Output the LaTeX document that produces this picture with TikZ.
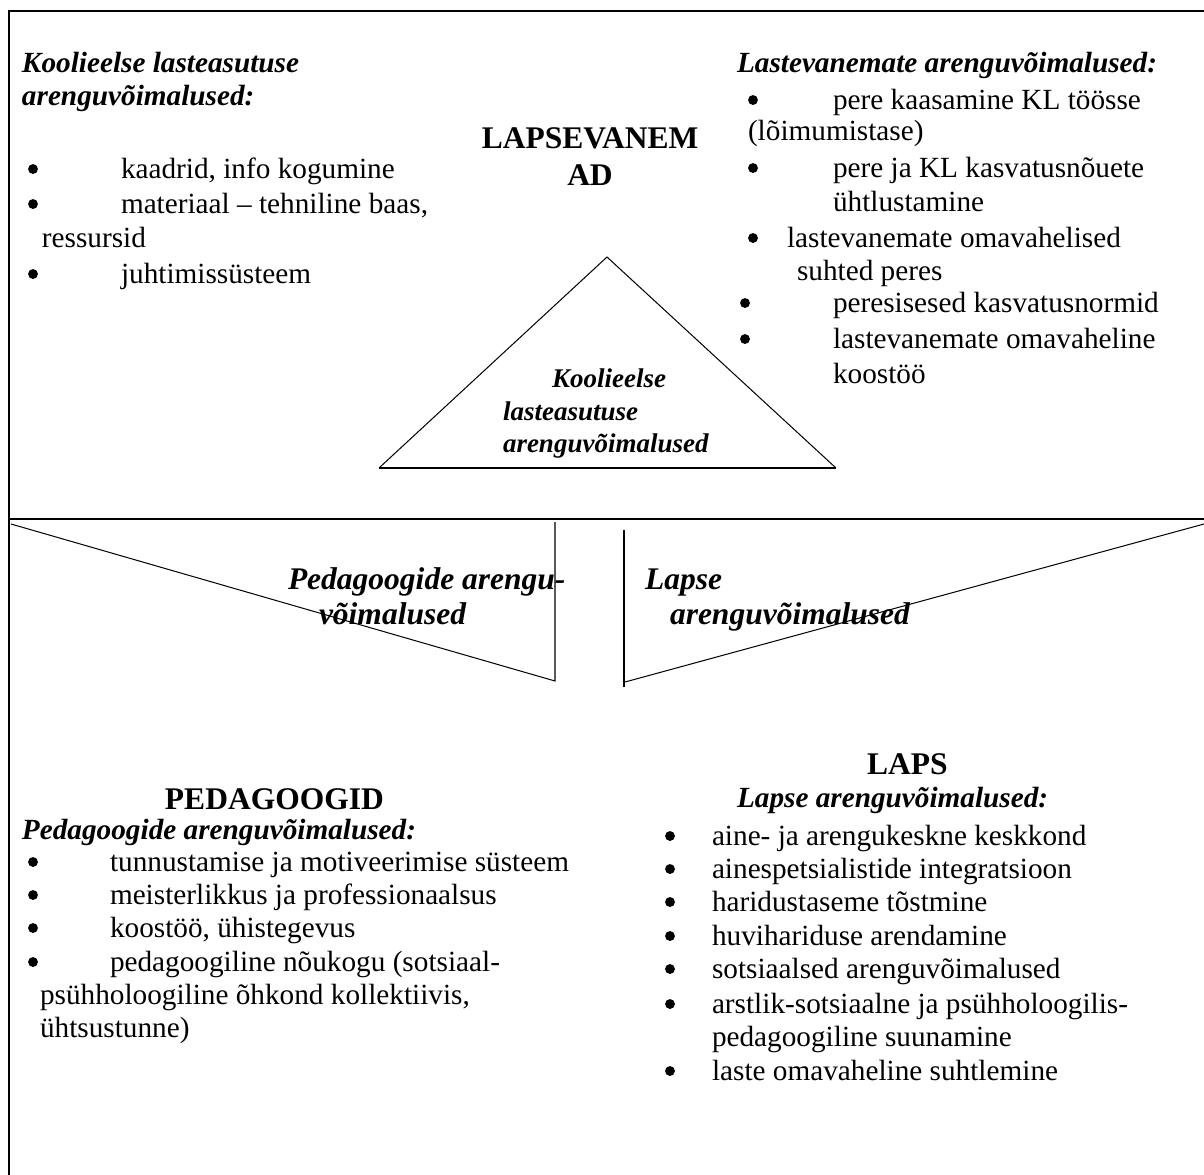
\documentclass[tikz,border=0pt]{standalone}
\usepackage{fontspec}
\setmainfont{Liberation Serif}
\begin{document}
\begin{tikzpicture}[x=0.4444pt,y=-0.4444pt,
  txt/.style={anchor=base west,inner sep=0pt,outer sep=0pt,font=\fontsize{13}{15}\selectfont},
  bi/.style={anchor=base west,inner sep=0pt,outer sep=0pt,font=\fontsize{13}{15}\selectfont\bfseries\itshape},
  hd/.style={anchor=base west,inner sep=0pt,outer sep=0pt,font=\fontsize{14}{16}\selectfont\bfseries},
  mid/.style={anchor=base west,inner sep=0pt,outer sep=0pt,font=\fontsize{14}{16}\selectfont\bfseries\itshape},
  tri/.style={anchor=base west,inner sep=0pt,outer sep=0pt,font=\fontsize{12}{14}\selectfont\bfseries\itshape},
  bul/.style={circle,fill=black,draw=none,inner sep=0pt,minimum size=4.4pt},
  framestroke/.style={line width=0.9pt},
  thinstroke/.style={line width=0.45pt}]
\useasboundingbox (0,0) rectangle (1204,1175);
% frame
\coordinate (fbl) at (9,1175);
\coordinate (ftl) at (9,11);
\coordinate (ftr) at (1204,11);
\draw[framestroke] (fbl) -- (ftl) -- (ftr);
\coordinate (ml) at (9,519);
\coordinate (mr) at (1204,519);
\draw[framestroke] (ml) -- (mr);
% triangle
\coordinate (ta) at (607,257);
\coordinate (tr) at (836,468);
\coordinate (tl) at (379,468);
\draw[thinstroke] (tl) -- (ta) -- (tr);
\draw[line width=0.7pt] (tl) -- (tr);
% left V
\coordinate (la) at (11,524);
\coordinate (lb) at (555,681);
\coordinate (lc) at (555,522);
\draw[thinstroke] (la) -- (lb) -- (lc);
% right V
\coordinate (ra) at (624,530);
\coordinate (rb) at (624,687);
\draw[thinstroke] (ra) -- (rb);
\coordinate (rc) at (625,682);
\coordinate (rd) at (1204,524);
\draw[thinstroke] (rc) -- (rd);

% top-left block
\node[bi] (kl1) at (22,72) {Koolieelse lasteasutuse};
\node[bi] (kl2) at (22,105) {arenguvõimalused:};
\node[bul] (klb1) at (33,169) {};
\node[txt] (kli1) at (121,178) {kaadrid, info kogumine};
\node[bul] (klb2) at (33,204) {};
\node[txt] (kli2) at (121,213) {materiaal – tehniline baas,};
\node[txt] (kli2b) at (42,247) {ressursid};
\node[bul] (klb3) at (33,274) {};
\node[txt] (kli3) at (121,283) {juhtimissüsteem};

% top centre
\node[hd,anchor=base] (lv1) at (590,148) {LAPSEVANEM};
\node[hd,anchor=base] (lv2) at (590,185) {AD};

% top-right block
\node[bi] (lvh) at (737,72) {Lastevanemate arenguvõimalused:};
\node[bul] (lvb1) at (753,100) {};
\node[txt] (lvi1) at (833,109) {pere kaasamine KL töösse};
\node[txt] (lvi1b) at (748,140) {(lõimumistase)};
\node[bul] (lvb2) at (753,168) {};
\node[txt] (lvi2) at (833,177) {pere ja KL kasvatusnõuete};
\node[txt] (lvi2b) at (833,211) {ühtlustamine};
\node[bul] (lvb3) at (753,238) {};
\node[txt] (lvi3) at (787,247) {lastevanemate omavahelised};
\node[txt] (lvi3b) at (797,280) {suhted peres};
\node[bul] (lvb4) at (745,303) {};
\node[txt] (lvi4) at (833,312) {peresisesed kasvatusnormid};
\node[bul] (lvb5) at (745,339) {};
\node[txt] (lvi5) at (833,348) {lastevanemate omavaheline};
\node[txt] (lvi5b) at (833,383) {koostöö};

% triangle text
\node[tri] (tt1) at (552,387) {Koolieelse};
\node[tri] (tt2) at (503,420) {lasteasutuse};
\node[tri] (tt3) at (503,452) {arenguvõimalused};

% middle labels
\node[mid] (pm1) at (288,589) {Pedagoogide arengu-};
\node[mid] (pm2) at (319,624) {võimalused};
\node[mid] (lm1) at (645,589) {Lapse};
\node[mid] (lm2) at (670,624) {arenguvõimalused};

% bottom-left block
\node[hd] (pg) at (165,809) {PEDAGOOGID};
\node[bi] (pgh) at (22,839) {Pedagoogide arenguvõimalused:};
\node[bul] (pgb1) at (33,862) {};
\node[txt] (pgi1) at (110,871) {tunnustamise ja motiveerimise süsteem};
\node[bul] (pgb2) at (33,895) {};
\node[txt] (pgi2) at (110,904) {meisterlikkus ja professionaalsus};
\node[bul] (pgb3) at (33,928) {};
\node[txt] (pgi3) at (110,937) {koostöö, ühistegevus};
\node[bul] (pgb4) at (33,962) {};
\node[txt] (pgi4) at (110,971) {pedagoogiline nõukogu (sotsiaal-};
\node[txt] (pgi4b) at (40,1004) {psühholoogiline õhkond kollektiivis,};
\node[txt] (pgi4c) at (40,1037) {ühtsustunne)};

% bottom-right block
\node[hd] (lp) at (867,774) {LAPS};
\node[bi] (lph) at (737,807) {Lapse arenguvõimalused:};
\node[bul] (lpb1) at (670,836) {};
\node[txt] (lpi1) at (712,845) {aine- ja arengukeskne keskkond};
\node[bul] (lpb2) at (670,869) {};
\node[txt] (lpi2) at (712,878) {ainespetsialistide integratsioon};
\node[bul] (lpb3) at (670,902) {};
\node[txt] (lpi3) at (712,911) {haridustaseme tõstmine};
\node[bul] (lpb4) at (670,936) {};
\node[txt] (lpi4) at (712,945) {huvihariduse arendamine};
\node[bul] (lpb5) at (670,969) {};
\node[txt] (lpi5) at (712,978) {sotsiaalsed arenguvõimalused};
\node[bul] (lpb6) at (670,1004) {};
\node[txt] (lpi6) at (712,1013) {arstlik-sotsiaalne ja psühholoogilis-};
\node[txt] (lpi6b) at (712,1046) {pedagoogiline suunamine};
\node[bul] (lpb7) at (670,1071) {};
\node[txt] (lpi7) at (712,1080) {laste omavaheline suhtlemine};
\end{tikzpicture}
\end{document}
